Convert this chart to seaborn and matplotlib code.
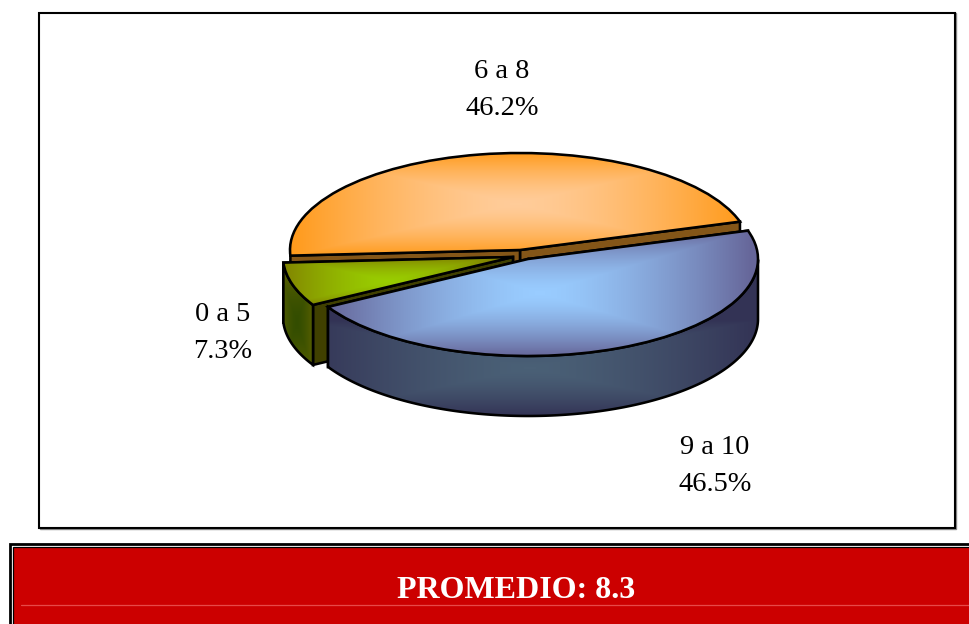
import numpy as np
import matplotlib
matplotlib.use("Agg")
import matplotlib.pyplot as plt
from matplotlib.patches import Polygon, Rectangle
import seaborn as sns

# ---- data ----
categories = ["6 a 8", "0 a 5", "9 a 10"]
shares = [46.2, 7.3, 46.5]
banner_label = "PROMEDIO"
banner_value = 8.3

# ---- styles ----
sns.set_theme(style="white")
plt.rcParams["font.family"] = ["Liberation Serif", "DejaVu Serif"]

W, H = 970, 624
RX, RY = 230.0, 97.0
ORIGIN = (520.0, 250.0)
DEPTH = 60.0
START = 17.0
OUT = 1.85
GAMMA = 1.5

centers_px = [(520, 250), (513, 257), (528, 259)]
top_grad = [
    (("#FFCC99", "#FF9A1A"), (516, 204, 226, 52)),
    (("#99CC00", "#808000"), (387, 281, 108, 25)),
    (("#99CCFF", "#666699"), (540, 293, 212, 63)),
]
cut_colors = ["#845618", "#404000", "#333355"]
side_grad = [
    None,
    (("#334D00", "#666600"), (297, 322, 20, 60)),
    (("#4A6076", "#333355"), (530, 368, 228, 48)),
]
label_pos = [(502, 90), (223, 333), (715, 466)]

fig = plt.figure(figsize=(W / 100, H / 100), dpi=100, facecolor="white")

# pixel-space layer for the frames
bg = fig.add_axes([0, 0, 1, 1])
bg.set_xlim(0, W)
bg.set_ylim(H, 0)
bg.axis("off")
bg.add_patch(Rectangle((40, 13), 916, 515.5, fc="none", ec="#8a8a8a", lw=1.0))
bg.add_patch(Rectangle((39.5, 12.5), 915.5, 515, fc="white", ec="black", lw=1.5))
bg.add_patch(Rectangle((10.5, 544), W + 20, 200, fc="white", ec="black", lw=2.0))
bg.add_patch(Rectangle((13, 546.5), W + 20, 200, fc="#CC0000", ec="black", lw=0.9))
bg.plot([21, W], [605.3, 605.3], color="#E64A48", lw=0.9)
bg.text(516, 590, f"{banner_label}: {banner_value}", color="white", fontsize=23,
        fontweight="bold", ha="center", va="center")

# pie layer: one data unit is one pie radius, squashed by the axes limits
ax = fig.add_axes([0, 0, 1, 1])
ax.patch.set_alpha(0)
wedges, _ = ax.pie(shares, startangle=START, radius=1, center=(0, 0),
                   wedgeprops=dict(facecolor="none", edgecolor="black", linewidth=OUT))
ax.set_aspect("auto")


def to_unit(px, py):
    return (px - ORIGIN[0]) / RX, (ORIGIN[1] - py) / RY


def gradient(colors, box, clip, z):
    """Rectangular path shading, clipped to a patch."""
    cx, cy, hw, hh = box
    xs = np.arange(0, W, 1.0) + 0.5
    ys = np.arange(0, H, 1.0) + 0.5
    xx, yy = np.meshgrid(xs, ys)
    t = np.clip(np.maximum(np.abs(xx - cx) / hw, np.abs(yy - cy) / hh), 0, 1) ** GAMMA
    cmap = sns.blend_palette(list(colors), as_cmap=True)
    x0, y0 = to_unit(0, 0)
    x1, y1 = to_unit(W, H)
    im = ax.imshow(t, cmap=cmap, vmin=0, vmax=1, extent=(x0, x1, y1, y0),
                   aspect="auto", zorder=z, interpolation="bilinear")
    im.set_clip_path(clip)


edges = np.cumsum([0] + shares) / sum(shares) * 360 + START
dz = DEPTH / RY

for i, w in enumerate(wedges):
    c = to_unit(*centers_px[i])
    w.set_center(c)
    base = 10 * (i + 1)
    a0, a1 = np.radians(edges[i]), np.radians(edges[i + 1])
    p0 = (c[0] + np.cos(a0), c[1] + np.sin(a0))
    p1 = (c[0] + np.cos(a1), c[1] + np.sin(a1))
    # radial cut faces
    for p in (p0, p1):
        ax.add_patch(Polygon([c, p, (p[0], p[1] - dz), (c[0], c[1] - dz)],
                             closed=True, fc=cut_colors[i], ec="black", lw=OUT, zorder=base))
    # outer wall, front half only
    th = np.linspace(a0, a1, 300)
    th = th[np.sin(th) <= 0]
    if len(th) > 1 and side_grad[i] is not None:
        top = np.c_[c[0] + np.cos(th), c[1] + np.sin(th)]
        wall = Polygon(np.vstack([top, top[::-1] - [0, dz]]), closed=True,
                       fc="none", ec="black", lw=OUT, zorder=base + 2)
        ax.add_patch(wall)
        gradient(side_grad[i][0], side_grad[i][1], wall, base + 1)
    # top face
    w.set_zorder(base + 5)
    gradient(top_grad[i][0], top_grad[i][1], w, base + 4)

x0, y0 = to_unit(0, 0)
x1, y1 = to_unit(W, H)
ax.set_xlim(x0, x1)
ax.set_ylim(y1, y0)

for name, val, (px, py) in zip(categories, shares, label_pos):
    ax.text(*to_unit(px, py), f"{name}\n{val}%", fontsize=20.4, ha="center", va="center",
            color="black", linespacing=1.62, zorder=50)

fig.savefig("out.png", dpi=100, facecolor="white")
